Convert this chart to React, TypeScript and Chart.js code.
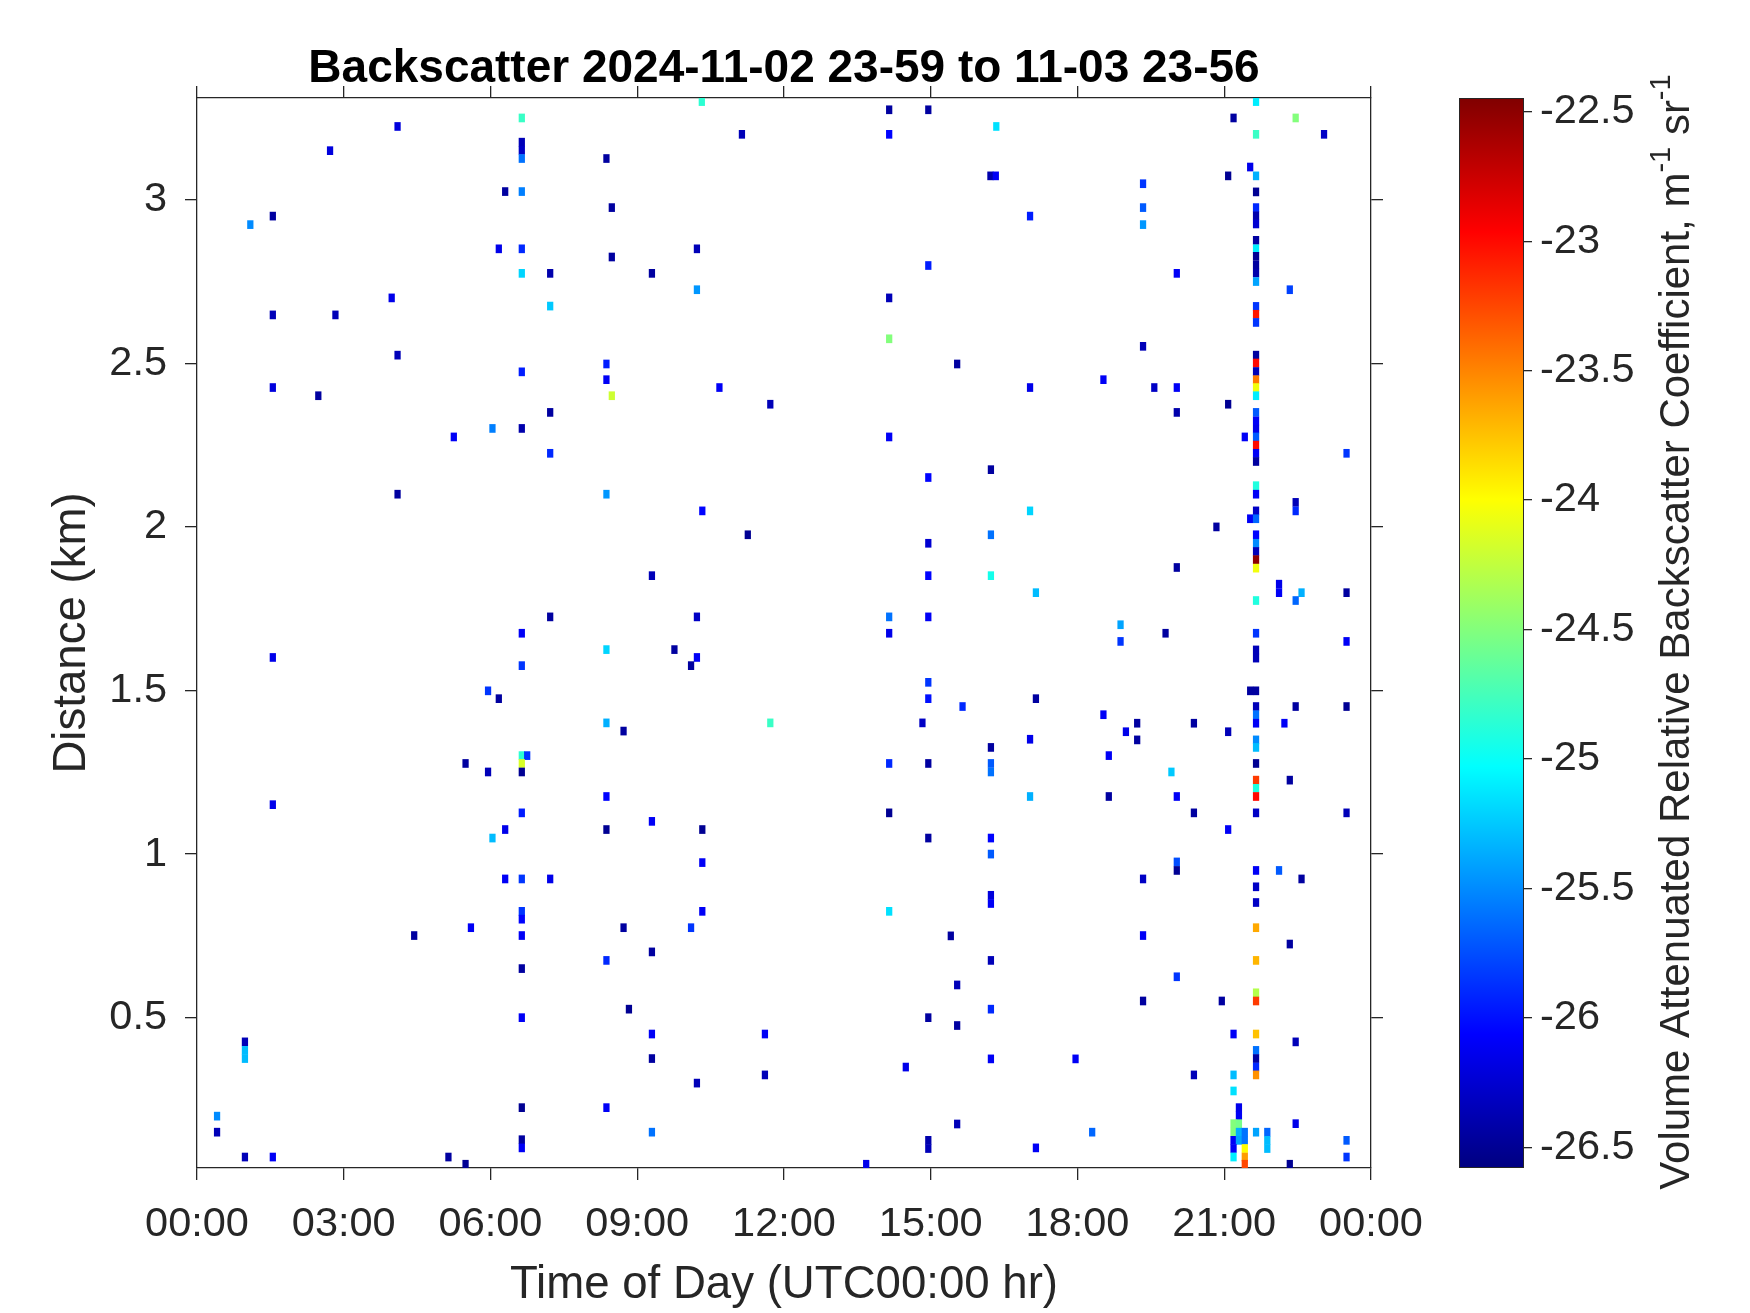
import React, { useEffect, useRef } from 'react';
import { Chart, registerables } from 'chart.js';

Chart.register(...registerables);

const FONT_FAMILY = '"Liberation Sans", Arial, Helvetica, sans-serif';
const AXIS_COLOR = '#262626';
Chart.defaults.font.family = FONT_FAMILY;

// ---------- text ----------
const TITLE = 'Backscatter 2024-11-02 23-59 to 11-03 23-56';
const X_TITLE = 'Time of Day (UTC00:00 hr)';
const Y_TITLE = 'Distance (km)';
const CB_LABEL_PARTS = [
  { text: 'Volume Attenuated Relative Backscatter Coefficient, m', sup: false },
  { text: '-1', sup: true },
  { text: ' sr', sup: false },
  { text: '-1', sup: true },
];

// ---------- axes ----------
const X_MIN = 0;
const X_MAX = 24;
const X_TICKS = [0, 3, 6, 9, 12, 15, 18, 21, 24];
const X_TICK_LABELS = ['00:00', '03:00', '06:00', '09:00', '12:00', '15:00', '18:00', '21:00', '00:00'];
const Y_MIN = 0.0405;
const Y_MAX = 3.311;
const Y_TICKS = [0.5, 1, 1.5, 2, 2.5, 3];
const Y_TICK_LABELS = ['0.5', '1', '1.5', '2', '2.5', '3'];
const C_MIN = -26.58;
const C_MAX = -22.447;
const C_TICKS = [-26.5, -26, -25.5, -25, -24.5, -24, -23.5, -23, -22.5];
const C_TICK_LABELS = ['-26.5', '-26', '-25.5', '-25', '-24.5', '-24', '-23.5', '-23', '-22.5'];
const GATE_KM = 0.0245;

// ---------- data: time of day (h), range (km), backscatter value ----------
const TIMES_H = [
  4.10, 2.72, 1.55, 1.09, 3.98, 1.55, 2.83, 4.10, 1.55, 2.48, 5.25, 6.04,
  10.32, 6.64, 11.14, 6.64, 6.64, 6.64, 8.37, 6.30, 6.64, 8.48, 6.17, 6.64, 8.48, 10.22, 6.64, 7.22, 9.30, 10.22, 7.22, 8.37, 6.64, 8.37, 8.48, 10.68, 11.72, 7.22, 6.64, 7.22,
  14.15, 14.95, 16.34, 14.15, 16.22, 16.33, 17.03, 14.95, 14.15, 14.15, 15.54, 17.03, 14.15,
  21.65, 21.19, 22.46, 21.65, 23.04, 21.53, 21.08, 21.65, 19.34, 21.65, 19.34, 21.65, 21.65, 21.65, 19.34, 21.65, 21.65, 21.65, 21.65, 21.65, 21.65, 20.03, 22.34, 21.65, 21.65, 21.65, 19.34, 21.65, 21.65, 21.65, 21.65, 21.65, 21.65, 18.53, 19.57, 20.03, 21.08, 20.03, 21.65, 21.65, 21.65, 21.42, 21.65, 21.65, 21.65, 23.50,
  4.10, 1.55, 5.95, 5.49, 5.95, 1.55,
  8.37, 10.33, 11.26, 9.30, 7.22, 10.22, 6.64, 8.37, 9.76, 10.22, 10.10, 6.64, 6.17, 8.37, 8.72, 11.72, 6.64, 6.75, 6.64, 6.64, 8.37, 6.64,
  16.23, 14.95, 17.03, 16.23, 14.95, 14.95, 16.23, 17.15, 14.15, 14.95, 14.15, 14.95, 14.95, 15.65, 17.15, 14.83, 17.03, 16.23, 14.15, 14.95, 16.23, 16.23, 17.03, 14.15,
  21.65, 21.65, 21.65, 22.46, 22.46, 21.65, 21.53, 21.65, 20.84, 21.65, 21.65, 21.65, 21.65, 21.65, 20.03, 22.12, 22.12, 22.58, 22.46, 23.50, 21.65, 18.88, 18.88, 19.80, 21.65, 21.65, 21.65, 23.50, 21.53, 21.65, 21.65, 22.46, 23.50, 21.65, 21.65, 22.23, 18.53, 19.22, 18.99, 19.22, 20.38, 21.08, 21.65, 21.65, 18.64, 19.92, 21.65, 22.34, 21.65, 21.65, 21.65, 18.64, 20.03, 20.38, 21.65, 23.50,
  6.04, 4.44, 5.60, 0.98, 0.98, 0.98, 0.41, 0.41, 0.98, 1.55, 5.14, 5.49,
  9.30, 6.30, 8.37, 10.33, 10.33, 6.30, 6.64, 7.22, 6.64, 6.64, 10.33, 8.72, 10.10, 6.64, 9.30, 8.37, 6.64, 8.83, 6.64, 9.30, 11.61, 9.30, 11.61, 10.22, 6.64, 8.37, 9.30, 6.64, 6.64,
  14.95, 16.23, 16.23, 16.23, 16.23, 14.15, 15.41, 16.23, 15.54, 16.23, 14.95, 15.54, 16.23, 17.96, 14.49, 15.54, 14.95, 14.95, 17.15, 13.68,
  21.08, 20.03, 20.03, 19.34, 21.65, 22.12, 22.58, 21.65, 21.65, 21.65, 19.34, 22.34, 21.65, 20.03, 21.65, 21.65, 19.34, 20.95, 21.19, 21.65, 22.46, 21.65, 21.65, 21.65, 21.65, 20.38, 21.19, 21.19, 21.30, 21.30, 21.19, 21.30, 21.19, 21.30, 21.42, 21.65, 21.88, 18.30, 22.46, 21.19, 21.30, 21.42, 21.88, 21.88, 21.19, 21.42, 21.19, 21.42, 21.42, 22.34, 23.50, 23.50,
];

const RANGES_KM = [
  3.224, 3.150, 2.950, 2.924, 2.700, 2.648, 2.648, 2.525, 2.426, 2.401, 2.275, 2.301,
  3.300, 3.250, 3.200, 3.176, 3.151, 3.126, 3.126, 3.025, 3.025, 2.976, 2.850, 2.850, 2.825, 2.850, 2.775, 2.775, 2.775, 2.725, 2.675, 2.498, 2.474, 2.450, 2.401, 2.426, 2.375, 2.350, 2.301, 2.225,
  3.275, 3.275, 3.224, 3.200, 3.073, 3.073, 2.950, 2.799, 2.700, 2.575, 2.498, 2.426, 2.275,
  3.300, 3.250, 3.250, 3.200, 3.200, 3.100, 3.073, 3.073, 3.049, 3.024, 2.976, 2.976, 2.951, 2.926, 2.924, 2.876, 2.850, 2.827, 2.801, 2.776, 2.750, 2.775, 2.725, 2.674, 2.650, 2.625, 2.552, 2.525, 2.501, 2.475, 2.450, 2.426, 2.401, 2.450, 2.426, 2.426, 2.375, 2.350, 2.350, 2.324, 2.299, 2.275, 2.275, 2.250, 2.225, 2.225,
  2.100, 1.601, 1.499, 1.277, 1.251, 1.151,
  2.100, 2.049, 1.976, 1.851, 1.725, 1.725, 1.675, 1.625, 1.625, 1.601, 1.576, 1.576, 1.475, 1.401, 1.376, 1.401, 1.301, 1.301, 1.277, 1.251, 1.176, 1.126,
  2.175, 2.151, 2.049, 1.976, 1.950, 1.851, 1.851, 1.799, 1.725, 1.725, 1.675, 1.525, 1.475, 1.451, 1.475, 1.401, 1.351, 1.326, 1.277, 1.277, 1.277, 1.251, 1.176, 1.126,
  2.200, 2.126, 2.100, 2.075, 2.049, 2.049, 2.025, 2.025, 2.000, 1.976, 1.950, 1.925, 1.900, 1.874, 1.876, 1.825, 1.799, 1.799, 1.775, 1.799, 1.775, 1.701, 1.650, 1.675, 1.675, 1.624, 1.599, 1.650, 1.499, 1.499, 1.451, 1.451, 1.451, 1.426, 1.400, 1.400, 1.426, 1.400, 1.374, 1.349, 1.400, 1.374, 1.349, 1.326, 1.301, 1.251, 1.277, 1.226, 1.226, 1.201, 1.176, 1.176, 1.176, 1.126, 1.126, 1.126,
  1.049, 0.751, 0.775, 0.426, 0.400, 0.375, 0.199, 0.150, 0.074, 0.074, 0.074, 0.052,
  1.100, 1.075, 1.075, 1.075, 0.974, 0.924, 0.924, 0.924, 0.825, 0.801, 0.825, 0.775, 0.775, 0.751, 0.701, 0.675, 0.650, 0.526, 0.500, 0.450, 0.450, 0.375, 0.325, 0.300, 0.225, 0.225, 0.150, 0.127, 0.102,
  1.049, 1.049, 1.000, 0.874, 0.849, 0.825, 0.750, 0.675, 0.600, 0.526, 0.500, 0.476, 0.374, 0.374, 0.349, 0.175, 0.125, 0.100, 0.102, 0.052,
  1.075, 0.976, 0.950, 0.924, 0.950, 0.950, 0.924, 0.900, 0.852, 0.775, 0.751, 0.725, 0.675, 0.625, 0.576, 0.551, 0.551, 0.551, 0.450, 0.450, 0.426, 0.400, 0.375, 0.349, 0.325, 0.325, 0.325, 0.276, 0.225, 0.200, 0.176, 0.176, 0.150, 0.150, 0.150, 0.150, 0.150, 0.150, 0.176, 0.125, 0.125, 0.125, 0.125, 0.100, 0.100, 0.100, 0.074, 0.074, 0.052, 0.052, 0.125, 0.074,
];

const VALUES = [
  -26.2, -26.2, -26.45, -25.5, -26.15, -26.35, -26.35, -26.35, -26.2, -26.45, -26.1, -25.55,
  -24.85, -24.8, -26.35, -26.35, -26.3, -25.6, -26.45, -26.45, -25.55, -26.45, -26.15, -25.9, -26.45, -26.35, -25.2, -26.4, -26.45, -25.45, -25.25, -25.95, -25.95, -26.1, -24.2, -26.1, -26.35, -26.45, -26.4, -25.9,
  -26.45, -26.45, -25.15, -26.05, -26.4, -26.1, -25.95, -25.95, -26.35, -24.5, -26.45, -26.15, -26.1,
  -25.1, -26.45, -24.5, -24.8, -26.3, -26.15, -26.5, -25.35, -25.85, -26.5, -25.7, -25.9, -26.4, -26.25, -25.45, -26.45, -25.1, -26.5, -26.45, -26.4, -25.4, -26.1, -25.8, -25.85, -23.05, -25.85, -26.35, -26.45, -23.0, -26.35, -23.45, -24.05, -25.1, -26.1, -26.3, -26.1, -26.5, -26.4, -25.7, -26.1, -26.15, -26.1, -25.7, -23.0, -26.1, -25.85,
  -26.45, -26.15, -25.85, -26.45, -26.35, -26.15,
  -25.45, -26.05, -26.5, -26.35, -26.45, -26.3, -26.1, -25.2, -26.45, -26.1, -26.45, -25.85, -26.45, -25.35, -26.45, -24.8, -24.85, -25.85, -24.15, -26.5, -26.05, -25.95,
  -26.45, -26.05, -25.2, -25.6, -26.25, -26.05, -24.95, -25.3, -25.6, -26.1, -26.15, -25.85, -26.0, -25.9, -26.45, -26.3, -26.15, -26.45, -25.9, -26.45, -25.7, -25.6, -25.35, -26.5,
  -26.45, -24.9, -26.1, -26.35, -25.9, -26.3, -26.1, -25.65, -26.45, -26.05, -25.5, -26.35, -22.5, -24.05, -26.45, -26.15, -26.1, -25.35, -25.65, -26.45, -24.9, -25.4, -25.85, -26.45, -25.85, -26.35, -26.35, -26.1, -26.45, -26.45, -26.35, -26.45, -26.5, -25.6, -26.1, -26.1, -26.1, -26.45, -26.15, -26.45, -26.45, -26.35, -25.5, -25.3, -26.1, -25.25, -26.5, -26.45, -23.2, -24.9, -23.0, -26.45, -26.1, -26.45, -26.3, -26.35,
  -25.3, -26.45, -26.1, -26.35, -25.3, -25.3, -25.5, -26.35, -26.35, -26.1, -26.45, -26.5,
  -26.1, -26.15, -26.5, -26.5, -26.1, -26.1, -25.85, -26.15, -25.85, -26.05, -26.1, -26.45, -25.85, -26.1, -26.45, -25.9, -26.45, -26.5, -26.1, -26.1, -26.1, -26.45, -26.35, -26.35, -26.5, -26.1, -25.6, -26.45, -26.1,
  -26.45, -26.05, -25.7, -26.2, -26.1, -25.15, -26.45, -26.35, -26.35, -25.9, -26.45, -26.45, -26.1, -26.1, -26.15, -26.35, -26.4, -26.35, -26.1, -26.15,
  -26.1, -25.75, -26.5, -26.3, -26.1, -25.7, -26.45, -26.3, -26.3, -23.65, -26.1, -26.45, -23.7, -25.85, -24.3, -23.2, -26.45, -26.45, -26.1, -23.75, -26.35, -25.6, -26.45, -25.9, -23.55, -26.35, -25.3, -25.15, -26.15, -26.1, -24.5, -24.55, -24.5, -25.35, -25.6, -25.4, -25.65, -25.65, -26.15, -26.1, -25.4, -25.6, -25.3, -25.3, -26.1, -24.0, -25.1, -23.6, -23.25, -26.5, -25.7, -25.85,
];

// ---------- jet colormap ----------
const JET_STOPS: [number, [number, number, number]][] = [
  [0, [0, 0, 0.5]],
  [0.125, [0, 0, 1]],
  [0.375, [0, 1, 1]],
  [0.625, [1, 1, 0]],
  [0.875, [1, 0, 0]],
  [1, [0.5, 0, 0]],
];

function rgbStr(c: [number, number, number]) {
  return `rgb(${Math.round(c[0] * 255)},${Math.round(c[1] * 255)},${Math.round(c[2] * 255)})`;
}

function jetColor(v: number) {
  let n = (v - C_MIN) / (C_MAX - C_MIN);
  n = Math.max(0, Math.min(1, n));
  for (let i = 1; i < JET_STOPS.length; i++) {
    const [p1, c1] = JET_STOPS[i];
    const [p0, c0] = JET_STOPS[i - 1];
    if (n <= p1) {
      const f = (n - p0) / (p1 - p0);
      return rgbStr([c0[0] + (c1[0] - c0[0]) * f, c0[1] + (c1[1] - c0[1]) * f, c0[2] + (c1[2] - c0[2]) * f]);
    }
  }
  return rgbStr(JET_STOPS[JET_STOPS.length - 1][1]);
}

// ---------- layout constants ----------
const MAIN_W = 1568;
const H = 1313;
const PLOT_LEFT = 197;
const PLOT_RIGHT = 1371;
const PLOT_TOP = 98;
const PLOT_BOTTOM = 1168;
const TICK_FONT = 41.5;
const LABEL_FONT = 45.6;
const TITLE_FONT = 46;
const TICK_LEN = 12;
const LINE_W = 1.3;
const TITLE_PAD_TOP = 41.4;
const CB_LEFT_PAGE = 1400;
const CB_W = 350;
const CB_BAR_LEFT = 1459;
const CB_BAR_RIGHT = 1524;
const CB_LABEL_X = 1677;
const CB_LABEL_Y = 632;
const CB_LABEL_FONT = 42;

const fixedTicks = (vals: number[]) => (scale: any) => {
  scale.ticks = vals.map((v) => ({ value: v }));
};
const labelFor = (vals: number[], labels: string[]) => (value: any) => {
  const i = vals.findIndex((v) => Math.abs(v - Number(value)) < 1e-9);
  return i >= 0 ? labels[i] : '';
};

const gridOpts = {
  offset: false,
  drawOnChartArea: false,
  drawTicks: true,
  tickLength: TICK_LEN,
  tickColor: AXIS_COLOR,
  tickWidth: LINE_W,
  color: AXIS_COLOR,
  lineWidth: LINE_W,
};
const borderOpts = { display: true, color: AXIS_COLOR, width: LINE_W };

const cbLabelPlugin = {
  id: 'cbLabel',
  afterDraw(chart: any) {
    const ctx = chart.ctx;
    ctx.save();
    ctx.translate(CB_LABEL_X - CB_LEFT_PAGE, CB_LABEL_Y);
    ctx.rotate(-Math.PI / 2);
    ctx.fillStyle = AXIS_COLOR;
    ctx.textBaseline = 'middle';
    ctx.textAlign = 'left';
    const big = `${CB_LABEL_FONT}px ${FONT_FAMILY}`;
    const small = `${Math.round(CB_LABEL_FONT * 0.7)}px ${FONT_FAMILY}`;
    let total = 0;
    for (const p of CB_LABEL_PARTS) {
      ctx.font = p.sup ? small : big;
      total += ctx.measureText(p.text).width;
    }
    let x = -total / 2;
    for (const p of CB_LABEL_PARTS) {
      ctx.font = p.sup ? small : big;
      ctx.fillText(p.text, x, p.sup ? -CB_LABEL_FONT * 0.36 : 0);
      x += ctx.measureText(p.text).width;
    }
    ctx.restore();
  },
};

function colorbarFill(ctx: any) {
  const chart = ctx.chart;
  const area = chart.chartArea;
  if (!area) return '#ffffff';
  let y0 = area.bottom;
  let y1 = area.top;
  const ys = chart.scales && chart.scales.y;
  if (ys) {
    const a = ys.getPixelForValue(C_MIN);
    const b = ys.getPixelForValue(C_MAX);
    if (Number.isFinite(a) && Number.isFinite(b) && a !== b) {
      y0 = a;
      y1 = b;
    }
  }
  if (!Number.isFinite(y0) || !Number.isFinite(y1) || y0 === y1) return '#ffffff';
  const g = chart.ctx.createLinearGradient(0, y0, 0, y1);
  JET_STOPS.forEach(([p, c]) => g.addColorStop(p, rgbStr(c)));
  return g;
}

export default function App() {
  const mainRef = useRef<HTMLCanvasElement>(null);
  const cbRef = useRef<HTMLCanvasElement>(null);

  useEffect(() => {
    const n = Math.min(TIMES_H.length, RANGES_KM.length, VALUES.length);
    const cells = [] as any[];
    const colors = [] as string[];
    for (let i = 0; i < n; i++) {
      cells.push({ x: TIMES_H[i], y: [RANGES_KM[i] - GATE_KM / 2, RANGES_KM[i] + GATE_KM / 2] });
      colors.push(jetColor(VALUES[i]));
    }

    const titleBoxH = TITLE_FONT * 1.2 + TITLE_PAD_TOP;

    const main = new Chart(mainRef.current as HTMLCanvasElement, {
      type: 'bar',
      data: {
        datasets: [
          {
            data: cells,
            backgroundColor: colors,
            borderWidth: 0,
            barThickness: 5.6,
            grouped: false,
          } as any,
        ],
      },
      options: {
        responsive: false,
        animation: false,
        devicePixelRatio: 1,
        events: [],
        layout: { padding: 0 },
        plugins: {
          legend: { display: false },
          tooltip: { enabled: false },
          title: {
            display: true,
            text: TITLE,
            color: '#000000',
            font: { size: TITLE_FONT, weight: 'bold', family: FONT_FAMILY, lineHeight: 1.2 },
            padding: { top: TITLE_PAD_TOP, bottom: 0 },
          },
        },
        scales: {
          x: {
            type: 'linear',
            position: 'bottom',
            min: X_MIN,
            max: X_MAX,
            offset: false,
            afterBuildTicks: fixedTicks(X_TICKS),
            afterFit: (s: any) => {
              s.height = H - PLOT_BOTTOM;
            },
            grid: gridOpts,
            border: borderOpts,
            ticks: {
              autoSkip: false,
              maxRotation: 0,
              padding: 20,
              color: AXIS_COLOR,
              font: { size: TICK_FONT, family: FONT_FAMILY },
              callback: labelFor(X_TICKS, X_TICK_LABELS),
            },
            title: {
              display: true,
              text: X_TITLE,
              color: AXIS_COLOR,
              font: { size: LABEL_FONT, family: FONT_FAMILY, lineHeight: 1.2 },
              padding: { top: 0, bottom: 0 },
            },
          },
          x2: {
            type: 'linear',
            position: 'top',
            min: X_MIN,
            max: X_MAX,
            offset: false,
            afterBuildTicks: fixedTicks(X_TICKS),
            afterFit: (s: any) => {
              s.height = Math.max(0, PLOT_TOP - titleBoxH);
            },
            grid: gridOpts,
            border: borderOpts,
            ticks: { display: false },
          },
          y: {
            type: 'linear',
            position: 'left',
            min: Y_MIN,
            max: Y_MAX,
            afterBuildTicks: fixedTicks(Y_TICKS),
            afterFit: (s: any) => {
              s.width = PLOT_LEFT;
            },
            grid: gridOpts,
            border: borderOpts,
            ticks: {
              autoSkip: false,
              padding: 18,
              color: AXIS_COLOR,
              font: { size: TICK_FONT, family: FONT_FAMILY },
              callback: labelFor(Y_TICKS, Y_TICK_LABELS),
            },
            title: {
              display: true,
              text: Y_TITLE,
              color: AXIS_COLOR,
              font: { size: LABEL_FONT, family: FONT_FAMILY, lineHeight: 1.2 },
              padding: { top: 45, bottom: 0 },
            },
          },
          y2: {
            type: 'linear',
            position: 'right',
            min: Y_MIN,
            max: Y_MAX,
            afterBuildTicks: fixedTicks(Y_TICKS),
            afterFit: (s: any) => {
              s.width = MAIN_W - PLOT_RIGHT;
            },
            grid: gridOpts,
            border: borderOpts,
            ticks: { display: false },
          },
        },
      } as any,
    });

    const cb = new Chart(cbRef.current as HTMLCanvasElement, {
      type: 'bar',
      data: {
        labels: ['colorbar'],
        datasets: [
          {
            data: [[C_MIN, C_MAX]],
            backgroundColor: colorbarFill,
            borderColor: AXIS_COLOR,
            borderWidth: LINE_W,
            borderSkipped: false,
            barPercentage: 1,
            categoryPercentage: 1,
          } as any,
        ],
      },
      options: {
        responsive: false,
        animation: false,
        devicePixelRatio: 1,
        events: [],
        layout: {
          padding: { left: CB_BAR_LEFT - CB_LEFT_PAGE, top: PLOT_TOP, bottom: H - PLOT_BOTTOM, right: 0 },
        },
        plugins: { legend: { display: false }, tooltip: { enabled: false }, title: { display: false } },
        scales: {
          x: { type: 'category', display: false, offset: true },
          y: {
            type: 'linear',
            position: 'right',
            min: C_MIN,
            max: C_MAX,
            afterBuildTicks: fixedTicks(C_TICKS),
            afterFit: (s: any) => {
              s.width = CB_W - (CB_BAR_RIGHT - CB_LEFT_PAGE);
            },
            grid: { ...gridOpts, tickLength: 8 },
            border: { display: false },
            ticks: {
              autoSkip: false,
              padding: 8,
              color: AXIS_COLOR,
              font: { size: TICK_FONT, family: FONT_FAMILY },
              callback: labelFor(C_TICKS, C_TICK_LABELS),
            },
          },
        },
      } as any,
      plugins: [cbLabelPlugin],
    });

    return () => {
      main.destroy();
      cb.destroy();
    };
  }, []);

  return (
    <div style={{ position: 'absolute', left: 0, top: 0, width: 1750, height: H, background: '#ffffff' }}>
      <canvas ref={mainRef} width={MAIN_W} height={H} style={{ position: 'absolute', left: 0, top: 0 }} />
      <canvas ref={cbRef} width={CB_W} height={H} style={{ position: 'absolute', left: CB_LEFT_PAGE, top: 0 }} />
    </div>
  );
}
